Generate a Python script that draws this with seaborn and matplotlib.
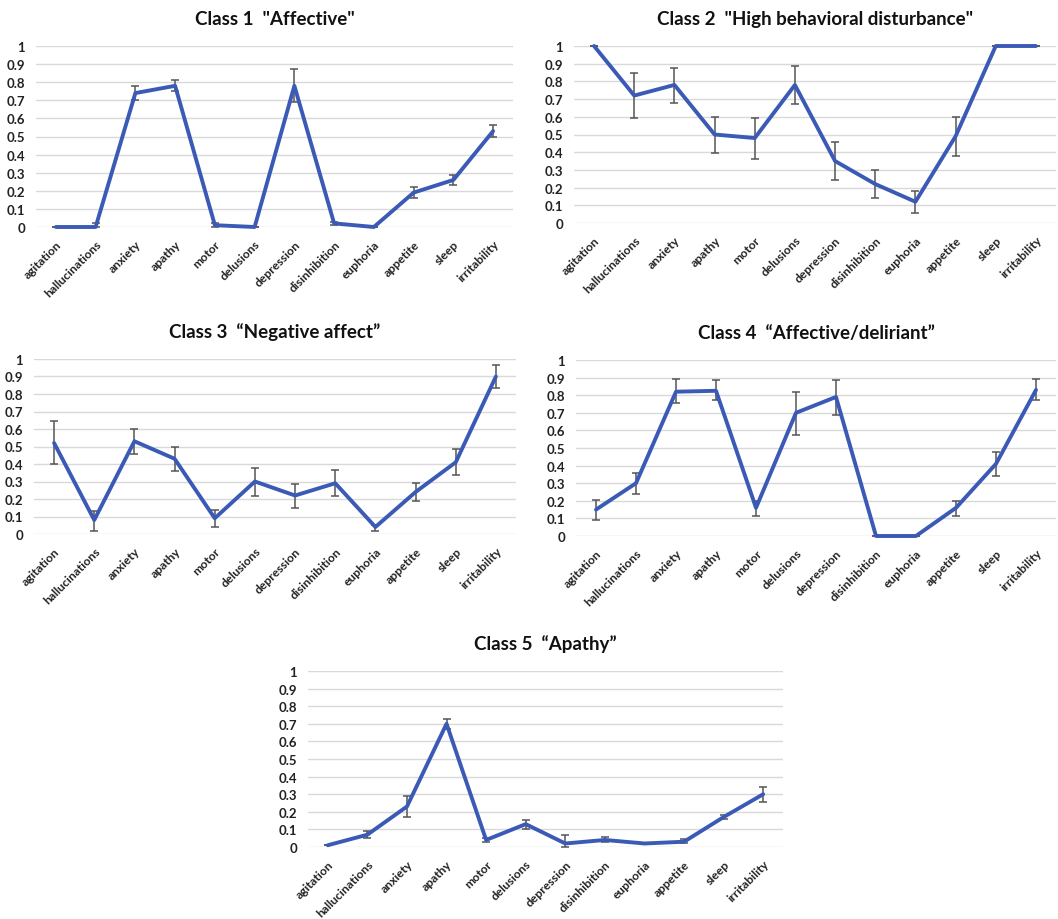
import matplotlib
matplotlib.use("Agg")
import matplotlib.pyplot as plt
import pandas as pd
import seaborn as sns

symptoms = ["agitation", "hallucinations", "anxiety", "apathy", "motor", "delusions",
            "depression", "disinhibition", "euphoria", "appetite", "sleep", "irritability"]

# Class 1 "Affective"
c1_mean = [0.0, 0.0, 0.74, 0.78, 0.01, 0.0, 0.78, 0.02, 0.0, 0.19, 0.26, 0.53]
c1_lo = [0.0, 0.0, 0.70, 0.75, 0.0, 0.0, 0.69, 0.01, 0.0, 0.16, 0.23, 0.50]
c1_hi = [0.0, 0.02, 0.78, 0.81, 0.02, 0.0, 0.875, 0.03, 0.0, 0.22, 0.29, 0.565]

# Class 2 "High behavioral disturbance"
c2_mean = [1.0, 0.72, 0.78, 0.50, 0.48, 0.78, 0.35, 0.22, 0.12, 0.49, 1.0, 1.0]
c2_lo = [1.0, 0.595, 0.68, 0.395, 0.36, 0.675, 0.245, 0.14, 0.055, 0.38, 1.0, 1.0]
c2_hi = [1.0, 0.85, 0.875, 0.60, 0.595, 0.885, 0.455, 0.30, 0.18, 0.60, 1.0, 1.0]

# Class 3 "Negative affect"
c3_mean = [0.52, 0.08, 0.53, 0.43, 0.09, 0.30, 0.22, 0.29, 0.04, 0.24, 0.41, 0.90]
c3_lo = [0.40, 0.02, 0.46, 0.36, 0.04, 0.22, 0.15, 0.215, 0.02, 0.19, 0.335, 0.835]
c3_hi = [0.645, 0.13, 0.60, 0.50, 0.14, 0.38, 0.285, 0.365, 0.05, 0.29, 0.485, 0.965]

# Class 4 "Affective/deliriant"
c4_mean = [0.15, 0.30, 0.82, 0.825, 0.16, 0.70, 0.79, 0.0, 0.0, 0.16, 0.41, 0.83]
c4_lo = [0.09, 0.24, 0.755, 0.775, 0.115, 0.575, 0.69, 0.0, 0.0, 0.115, 0.34, 0.77]
c4_hi = [0.205, 0.36, 0.89, 0.885, 0.20, 0.82, 0.885, 0.0, 0.0, 0.20, 0.475, 0.89]

# Class 5 "Apathy"
c5_mean = [0.01, 0.07, 0.23, 0.70, 0.04, 0.13, 0.02, 0.04, 0.02, 0.03, 0.17, 0.30]
c5_lo = [0.01, 0.05, 0.17, 0.67, 0.03, 0.10, 0.0, 0.03, 0.02, 0.02, 0.16, 0.255]
c5_hi = [0.01, 0.09, 0.29, 0.73, 0.05, 0.155, 0.07, 0.055, 0.02, 0.045, 0.18, 0.34]

titles = ['Class 1  "Affective"',
          'Class 2  "High behavioral disturbance"',
          'Class 3  \u201cNegative affect\u201d',
          'Class 4  \u201cAffective/deliriant\u201d',
          'Class 5  \u201cApathy\u201d']

sns.set_theme(style="white")
plt.rcParams['font.family'] = ['Lato', 'DejaVu Sans']

W, H = 1058, 920
fig = plt.figure(figsize=(W / 100, H / 100), dpi=100)

# panel boxes in pixels: left, right, y of value 1, y of value 0
boxes = [(36, 513, 47, 228), (574, 1056, 47, 224),
         (34, 516, 360, 535), (576, 1056, 361, 537),
         (308, 783, 672, 848)]
panels = [(c1_mean, c1_lo, c1_hi), (c2_mean, c2_lo, c2_hi), (c3_mean, c3_lo, c3_hi),
          (c4_mean, c4_lo, c4_hi), (c5_mean, c5_lo, c5_hi)]

line_color = "#3a5ab6"

for (l, r, top, bot), (mean, lo, hi), title in zip(boxes, panels, titles):
    ax = fig.add_axes([l / W, 1 - bot / H, (r - l) / W, (bot - top) / H])
    df = pd.DataFrame({"symptom": symptoms, "value": mean})
    x = list(range(len(symptoms)))
    err = [[m - a for m, a in zip(mean, lo)], [b - m for m, b in zip(mean, hi)]]
    ax.errorbar(x, mean, yerr=err, fmt="none", ecolor="#555555",
                elinewidth=1.1, capsize=3, capthick=1.1, zorder=3, clip_on=False)
    sns.lineplot(data=df, x="symptom", y="value", ax=ax, sort=False,
                 color=line_color, linewidth=2.8, zorder=4, clip_on=False)
    ax.set_xlim(-0.5, len(symptoms) - 0.5)
    ax.set_ylim(0, 1)
    ax.set_yticks([i / 10 for i in range(11)])
    ax.set_yticklabels(["0"] + [f"0.{i}" for i in range(1, 10)] + ["1"],
                       fontsize=9.5, fontweight="bold", color="#222222")
    ax.set_xticks(x)
    ax.set_xticklabels(symptoms, rotation=45, ha="right", rotation_mode="anchor",
                       fontsize=8.7, fontweight="bold", color="#222222")
    ax.tick_params(axis="both", length=0)
    ax.tick_params(axis="y", pad=8)
    ax.tick_params(axis="x", pad=8)
    ax.grid(axis="y", color="#d9d9d9", linewidth=1)
    ax.set_axisbelow(True)
    for s in ax.spines.values():
        s.set_visible(False)
    ax.set_xlabel("")
    ax.set_ylabel("")
    ax.set_title(title, fontsize=13.5, fontweight="bold", color="#111111", pad=16)

fig.savefig("out.png", dpi=100, facecolor="white")
